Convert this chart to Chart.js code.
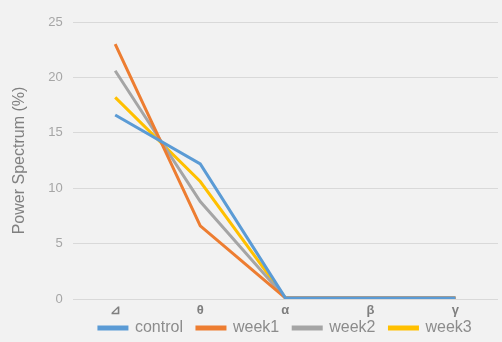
<!DOCTYPE html>
<html>
<head>
<meta charset="utf-8">
<script src="https://cdn.jsdelivr.net/npm/chart.js@4"></script>
<style>
  html, body { margin: 0; padding: 0; background: #f2f2f2; }
  #wrap { width: 502px; height: 342px; }
</style>
</head>
<body>
<div id="wrap"><canvas id="chart" width="502" height="342"></canvas></div>
<script>
// bands on the x axis
const bands = ['⊿', 'θ', 'α', 'β', 'γ'];

// power spectrum (%) per group
const control = [16.6, 12.2, 0.1, 0.1, 0.1];
const week1 = [23.0, 6.6, 0.1, 0.1, 0.1];
const week2 = [20.6, 8.8, 0.1, 0.1, 0.1];
const week3 = [18.2, 10.6, 0.1, 0.1, 0.1];

const yTicks = [0, 5, 10, 15, 20, 25];

function line(label, data, color) {
  return {
    label: label,
    data: data,
    borderColor: color,
    backgroundColor: color,
    borderWidth: 3,
    pointRadius: 0,
    tension: 0
  };
}

// x axis only takes a few px in the layout, so widen its box again afterwards
// otherwise chart.js clips the tick labels
const growXAxis = {
  id: 'growXAxis',
  afterLayout(chart) {
    chart.scales.x.bottom = chart.scales.x.top + 22;
  }
};

Chart.defaults.font.family = '"Liberation Sans", Arial, sans-serif';
Chart.defaults.color = '#8c8c8c';

new Chart(document.getElementById('chart').getContext('2d'), {
  type: 'line',
  data: {
    labels: bands,
    datasets: [
      line('control', control, '#5b9bd5'),
      line('week1', week1, '#ed7d31'),
      line('week2', week2, '#a5a5a5'),
      line('week3', week3, '#ffc000')
    ]
  },
  plugins: [growXAxis],
  options: {
    responsive: false,
    animation: false,
    layout: { padding: { top: 22, right: 4, left: 10, bottom: -4 } },
    plugins: {
      tooltip: { enabled: false },
      legend: {
        position: 'bottom',
        fullSize: false,
        labels: {
          boxWidth: 28,
          boxHeight: 2,
          padding: 14,
          font: { size: 16 },
          color: '#8c8c8c'
        }
      }
    },
    scales: {
      x: {
        offset: true,
        grid: { display: false, drawTicks: false },
        border: { display: false },
        ticks: { font: { size: 13, weight: 'bold' }, color: '#7f7f7f', padding: 4 },
        afterFit: axis => { axis.height = 7; }
      },
      y: {
        min: 0,
        max: 25,
        afterBuildTicks: axis => { axis.ticks = yTicks.map(v => ({ value: v })); },
        grid: { color: '#d9d9d9', drawTicks: false },
        border: { display: false },
        ticks: { font: { size: 13 }, color: '#a6a6a6', padding: 10 },
        title: {
          display: true,
          text: 'Power Spectrum (%)',
          font: { size: 16 },
          color: '#808080',
          padding: { top: 0, bottom: 9 }
        }
      }
    }
  }
});
</script>
</body>
</html>
